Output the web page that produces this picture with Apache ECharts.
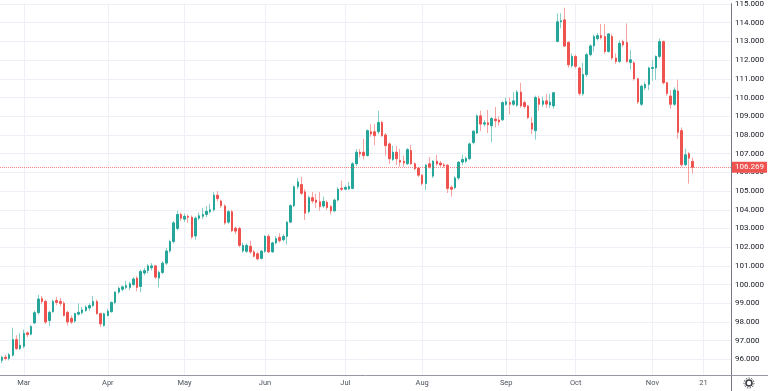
<!DOCTYPE html>
<html><head><meta charset="utf-8">
<script src="https://cdn.jsdelivr.net/npm/echarts@6/dist/echarts.min.js"></script>
<style>html,body{margin:0;padding:0;background:#fff}#c{width:768px;height:391px}</style>
</head><body><div id="c"></div>
<script>
// ---- data ----
const opens = [
95.95,96.12,96.05,96.23,97.06,96.58,96.7,97.42,97.35,97.95,
98.5,99.25,99.1,98.08,98.55,99.15,99.1,99.0,98.52,98.2,
98.05,98.42,98.5,98.62,98.75,98.88,99.1,98.45,97.82,98.35,
98.55,99.05,99.6,99.75,99.85,99.85,100.0,100.35,99.9,100.62,
100.75,100.9,101.0,100.35,100.65,101.15,101.8,102.3,103.0,103.75,
103.5,103.65,103.6,102.6,103.55,103.65,103.75,103.9,104.0,104.78,
104.47,104.2,103.34,103.9,103.02,103.0,101.8,101.78,102.05,101.75,
101.65,101.4,101.79,102.58,101.75,102.23,102.53,102.4,102.58,103.34,
104.22,105.23,105.35,104.96,103.9,104.65,104.52,104.43,104.2,104.4,
104.17,103.94,104.52,105.15,105.1,105.12,105.14,106.46,107.08,107.08,
106.9,108.17,108.17,108.17,108.67,108.0,107.52,106.69,107.08,106.64,
106.59,106.46,107.17,106.46,106.23,105.85,105.4,106.46,105.8,106.6,
106.5,106.4,106.38,105.2,105.18,105.7,106.55,106.6,106.73,107.6,
108.1,109.02,108.58,108.65,108.49,108.85,108.8,108.81,109.64,109.73,
109.64,109.59,110.29,109.73,109.55,108.63,108.23,109.94,109.64,109.82,
109.6,109.55,113.0,114.05,114.15,112.95,111.7,112.2,111.58,110.2,
111.23,112.29,112.76,113.15,113.31,113.26,112.46,113.26,112.11,111.93,
112.99,112.94,111.88,111.85,111.0,109.64,110.52,110.7,111.55,111.58,
112.2,112.99,110.79,110.08,109.64,110.35,108.23,106.41,107.0,106.59];
const closes = [
96.12,96.05,96.25,97.06,96.58,96.76,97.4,97.33,97.76,98.5,
99.23,99.1,98.0,98.52,99.1,99.05,99.0,98.35,98.0,98.0,
98.45,98.52,98.65,98.8,98.88,99.1,98.45,97.9,98.44,98.58,
99.05,99.6,99.8,99.88,99.95,100.05,100.3,99.85,100.7,100.75,
101.0,101.0,100.4,100.65,101.15,101.8,102.3,103.3,103.75,103.55,
103.65,103.6,102.55,103.55,103.68,103.75,103.92,104.0,104.78,104.6,
104.22,103.3,103.9,102.88,102.86,102.1,102.1,102.1,101.75,101.52,
101.38,101.79,102.58,101.75,102.23,102.46,102.35,102.58,103.34,104.22,
105.23,105.49,104.88,103.82,104.65,104.47,104.4,104.17,104.45,104.12,
103.94,104.52,105.1,105.1,105.2,105.25,106.46,107.08,106.99,106.9,
108.23,108.05,107.96,108.67,107.96,107.43,106.73,107.08,106.73,106.55,
106.5,107.22,106.46,106.2,105.85,105.4,106.38,106.29,106.6,106.45,
106.4,106.35,105.14,105.1,105.7,106.55,106.69,106.75,107.52,108.2,
109.02,108.58,108.65,108.55,108.88,108.76,108.7,109.73,109.78,109.64,
109.82,110.29,109.55,109.52,108.93,108.31,110.0,109.64,109.82,109.65,
109.75,110.26,114.05,114.1,112.75,111.75,112.2,111.67,110.22,111.23,
112.29,112.76,113.26,113.31,113.2,112.46,113.4,112.11,111.93,112.9,
112.82,111.93,112.02,111.0,109.76,110.61,110.7,111.58,111.6,112.2,
112.99,110.79,110.22,109.64,110.4,108.14,106.41,106.94,106.76,106.269];
const lows = [
95.8,95.95,95.95,96.15,96.5,96.5,96.6,97.2,97.3,97.9,
98.4,98.95,97.9,97.78,98.5,98.9,98.85,98.3,97.82,97.9,
97.95,98.35,98.4,98.55,98.6,98.8,98.4,97.73,97.75,98.3,
98.5,98.95,99.5,99.65,99.75,99.7,99.95,99.65,99.6,100.5,
100.6,100.75,100.3,99.85,100.55,101.05,101.7,102.2,102.9,103.4,
103.35,103.3,102.45,102.4,103.45,103.5,103.6,103.8,103.9,104.45,
104.1,103.2,103.25,102.8,102.7,102.0,101.7,101.7,101.65,101.45,
101.3,101.35,101.7,101.7,101.7,102.15,102.25,102.3,102.15,103.3,
104.15,105.1,104.8,103.46,103.8,104.35,104.1,103.95,104.1,104.0,
103.75,103.9,104.45,105.0,105.05,105.05,105.1,106.35,106.8,106.7,
106.85,107.9,107.45,108.05,107.9,106.9,106.46,106.6,106.4,106.3,
106.3,106.4,106.4,106.1,105.75,105.3,105.05,106.2,105.7,106.35,
106.3,106.25,104.9,104.7,105.1,105.6,106.4,106.5,106.65,107.5,
108.05,108.2,108.45,108.1,107.61,108.4,108.5,108.75,109.55,109.1,
109.55,109.5,109.45,109.4,108.85,108.05,107.75,109.3,109.5,109.45,
109.45,109.4,112.95,113.7,112.7,111.6,111.6,111.55,110.1,110.1,
111.1,112.2,112.45,113.05,113.1,112.35,112.4,112.0,111.8,111.85,
112.7,111.85,111.5,110.9,109.65,109.55,110.4,110.4,110.9,110.95,
112.1,110.7,110.1,109.4,109.55,107.79,106.3,106.35,105.4,105.94];
const highs = [
96.2,96.25,96.35,97.7,97.3,97.4,97.6,97.5,97.85,98.6,
99.45,99.4,99.2,98.6,99.2,99.35,99.3,99.1,98.6,98.35,
98.5,99.0,98.8,98.9,99.0,99.4,99.2,98.5,98.5,98.7,
99.1,99.65,99.9,99.95,100.2,100.15,100.4,100.45,100.8,100.9,
101.1,101.15,101.05,100.75,101.25,101.95,102.4,103.4,103.95,103.85,
103.8,103.75,103.7,103.65,103.85,104.1,104.2,104.3,104.95,105.0,
104.55,104.3,104.0,104.0,103.1,103.1,102.25,102.2,102.35,101.85,
101.75,101.85,102.65,102.7,102.3,102.6,102.75,102.7,103.4,104.3,
105.3,105.7,105.76,105.1,104.75,104.96,104.85,104.95,104.7,104.5,
104.25,104.6,105.2,105.55,105.3,105.5,106.55,107.25,107.25,107.79,
108.3,108.58,108.58,109.29,108.75,108.1,107.6,107.43,107.4,107.25,
106.9,107.3,107.47,106.55,106.3,105.9,106.45,106.82,106.65,106.94,
106.6,106.5,106.45,105.3,105.8,106.6,106.95,106.85,107.6,108.25,
109.1,109.29,108.8,109.34,108.95,109.5,109.0,109.8,110.0,110.0,
110.29,110.4,110.79,109.85,109.6,108.95,110.1,110.1,110.05,110.2,
110.2,110.3,114.5,114.5,114.8,113.0,112.35,112.3,111.65,111.85,
112.4,112.85,113.35,113.45,113.93,113.93,113.45,113.4,112.35,113.05,
113.1,113.96,112.55,111.95,111.05,110.7,110.85,111.65,112.0,112.25,
113.15,113.05,110.85,110.4,110.55,110.96,108.4,107.26,107.1,106.8];
const lastPrice = 106.269;

// time axis: trading days (weekdays) from start, some missing sessions
const startDate = '2022-02-21';
const categoryCount = 200;
const skippedDates = ['2022-09-19','2022-09-22','2022-09-23'];
const xTickDates = ['2022-03-01','2022-04-01','2022-05-02','2022-06-01','2022-07-01','2022-08-01','2022-09-01','2022-10-03','2022-11-01','2022-11-21'];
const xTickLabels = ['Mar','Apr','May','Jun','Jul','Aug','Sep','Oct','Nov','21'];
const yTicks = [96,97,98,99,100,101,102,103,104,105,106,107,108,109,110,111,112,113,114,115];

const categories = [];
{
  const p = startDate.split('-').map(Number);
  const d = new Date(Date.UTC(p[0], p[1]-1, p[2]));
  while (categories.length < categoryCount) {
    const wd = d.getUTCDay();
    const s = d.toISOString().slice(0,10);
    if (wd !== 0 && wd !== 6 && skippedDates.indexOf(s) < 0) categories.push(s);
    d.setUTCDate(d.getUTCDate() + 1);
  }
}

const fullData = opens.map((o,i)=>[o, closes[i], lows[i], highs[i]]);
const bodyData = opens.map((o,i)=>[o, closes[i], Math.min(o,closes[i]), Math.max(o,closes[i])]);

const isTick = (i, v) => xTickDates.indexOf(v) >= 0;

const chart = echarts.init(document.getElementById('c'), null, {renderer:'canvas'});
chart.setOption({
  animation: false,
  backgroundColor: '#ffffff',
  grid: {left: 0, right: 37, top: 0, bottom: 16, containLabel: false},
  xAxis: {
    type: 'category', data: categories, boundaryGap: true,
    axisLine: {show: true, lineStyle: {color: '#9598a1', width: 1}},
    axisTick: {show: false},
    axisLabel: {interval: isTick, formatter: v => xTickLabels[xTickDates.indexOf(v)],
      color: '#4c525e', fontSize: 7.5, margin: 4, fontFamily: 'Roboto'},
    splitLine: {show: true, interval: isTick, alignWithLabel: true, lineStyle: {color: '#edf1f7', width: 1}}
  },
  yAxis: {
    type: 'value', position: 'right', min: 95.169, max: 115.021, scale: true,
    axisLine: {show: true, lineStyle: {color: '#787b86', width: 1}},
    axisTick: {show: false, customValues: yTicks},
    axisLabel: {customValues: yTicks, formatter: v => v.toFixed(3), color: '#131722',
      fontSize: 8, margin: 4, fontFamily: 'Roboto'},
    splitLine: {show: true, lineStyle: {color: '#edf1f7', width: 1}}
  },
  series: [
    {
      type: 'candlestick', name: 'wick', data: fullData, barWidth: 1,
      itemStyle: {color: '#86cfc8', color0: '#f6a3a1', borderColor: '#86cfc8', borderColor0: '#f6a3a1', borderWidth: 1},
      silent: true
    },
    {
      type: 'candlestick', name: 'body', data: bodyData, barWidth: 2,
      itemStyle: {color: '#26a69a', color0: '#ef5350', borderColor: '#26a69a', borderColor0: '#ef5350', borderWidth: 1},
      markLine: {
        symbol: 'none', silent: true, data: [{yAxis: lastPrice}],
        lineStyle: {color: 'rgba(239,83,80,0.7)', type: 'dotted', width: 1, opacity: 1},
        label: {position: 'end', formatter: lastPrice.toFixed(3), backgroundColor: '#ef5350', color: '#ffffff',
          opacity: 1, fontSize: 8, fontFamily: 'Roboto', padding: [2, 3, 1, 3], distance: 1}
      }
    }
  ],
  graphic: [
    {type: 'line', shape: {x1: 731.5, y1: 375, x2: 731.5, y2: 391}, style: {stroke: '#787b86', lineWidth: 1}},
    {type: 'line', shape: {x1: 731, y1: 375.5, x2: 768, y2: 375.5}, style: {stroke: '#9598a1', lineWidth: 1}},
    {type: 'circle', shape: {cx: 749, cy: 383, r: 3}, style: {fill: '#ffffff', stroke: '#3b3e45', lineWidth: 1.6}},
    {type: 'circle', shape: {cx: 749, cy: 383, r: 5}, style: {fill: 'none', stroke: '#3b3e45', lineWidth: 1, lineDash: [1.4, 1.4]}}
  ]
});
</script></body></html>
